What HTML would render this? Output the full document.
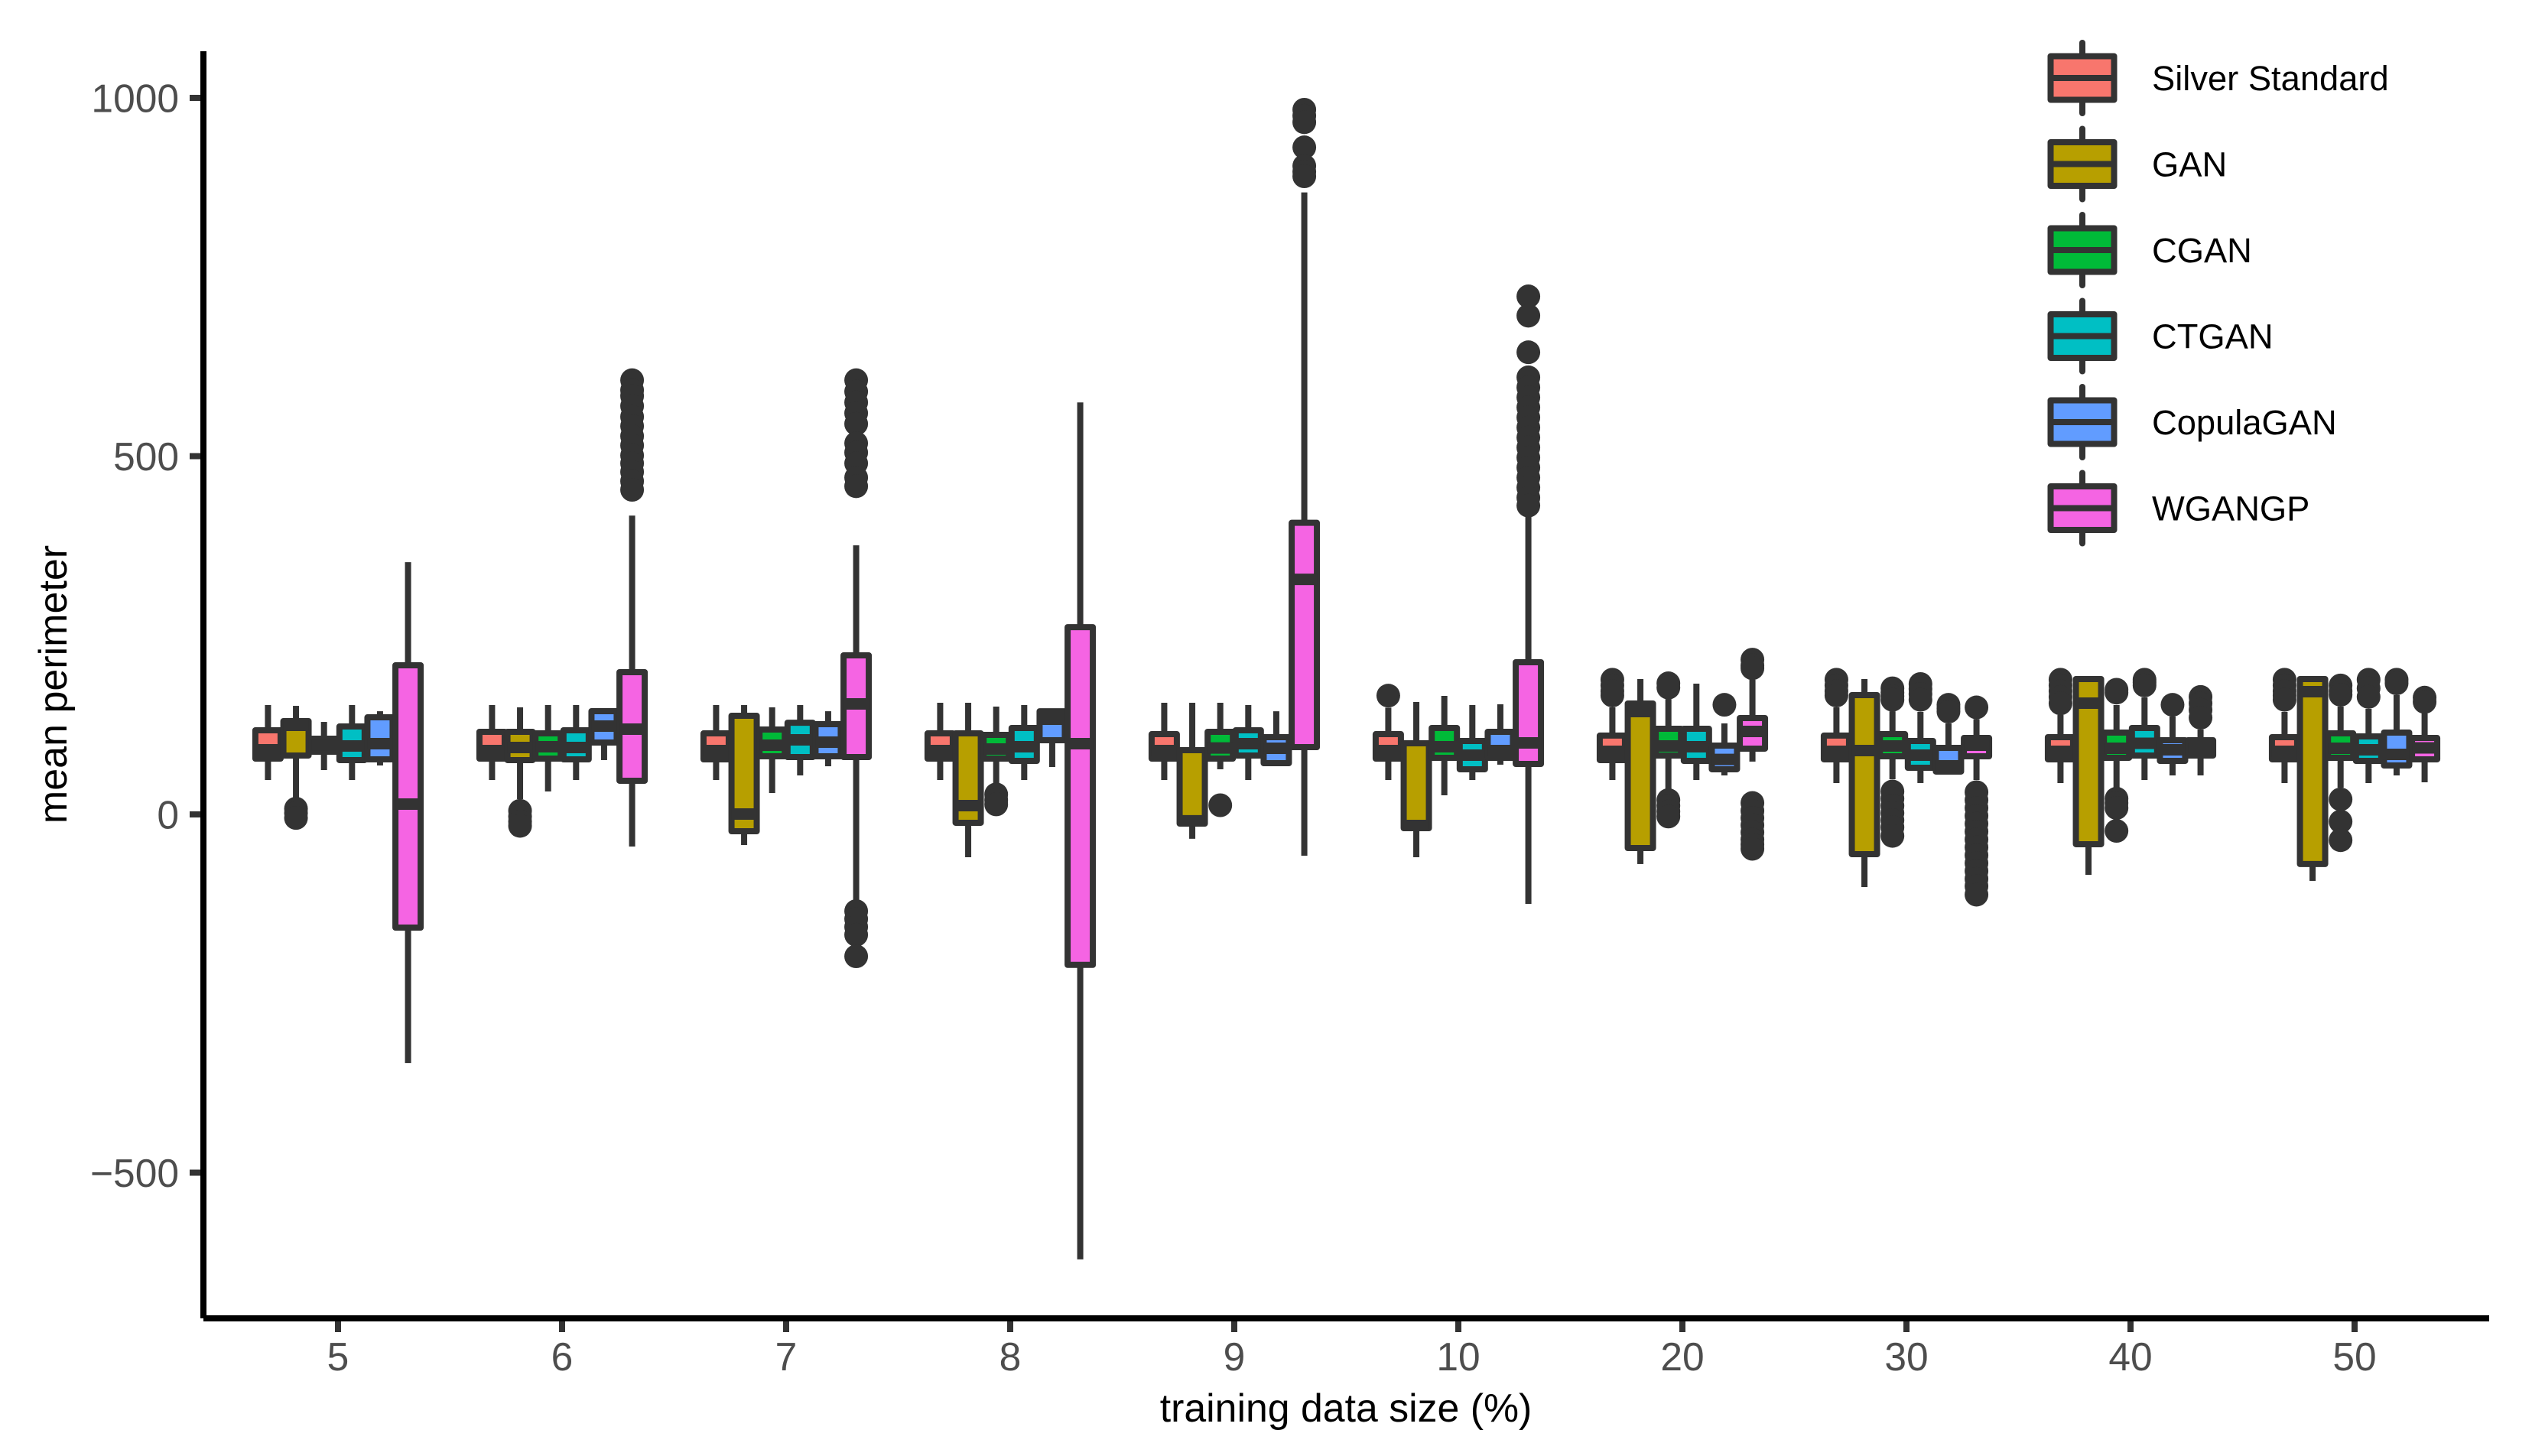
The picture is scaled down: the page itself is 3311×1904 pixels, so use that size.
<!DOCTYPE html>
<html lang="en">
<head>
<meta charset="utf-8">
<title>Mean perimeter by training data size</title>
<style>
html,body{margin:0;padding:0;background:#fff;width:3311px;height:1904px;overflow:hidden}
svg{display:block}
text{font-family:"Liberation Sans",Arial,sans-serif}
</style>
</head>
<body>
<svg id="chart" xmlns="http://www.w3.org/2000/svg" width="3311" height="1904" viewBox="0 0 3311 1904">
  <rect x="0" y="0" width="3311" height="1904" fill="#ffffff"/>
  <g id="marks"></g>
  <g id="yaxis"></g>
  <g id="xaxis"></g>
  <rect x="262" y="67" width="8" height="1657" fill="#000"/>
  <rect x="266" y="1720" width="2989" height="8" fill="#000"/>
  <text x="1760" y="1859" text-anchor="middle" font-size="51.8" fill="#000">training data size (%)</text>
  <text transform="translate(87,895) rotate(-90)" text-anchor="middle" font-size="52" fill="#000">mean perimeter</text>
  <g id="legend"></g>
</svg>
<script>
const categories = ['5','6','7','8','9','10','20','30','40','50'];
const seriesNames = ['Silver Standard','GAN','CGAN','CTGAN','CopulaGAN','WGANGP'];
const seriesColors = ['#F8766D','#B79F00','#00BA38','#00BFC4','#619CFF','#F564E3'];
const yTickValues = [1000,500,0,-500];
const yTickLabels = ['1000','500','0','\u2212500'];

/* rows: categories; columns: series */
const whiskerHi = [
  [152.6,151.5,129.1,152.6,144,352],
  [152.6,149.4,152.6,152.6,146,417],
  [152.6,152.6,149.4,152.6,144,375.6],
  [155.8,155.8,150.5,152.6,146,575],
  [155.8,155.8,155.8,152.6,144,868],
  [149,156.9,165.4,152.6,153.7,430],
  [149.4,188.9,161,182.5,127,187.8],
  [149.4,188.9,144,143,127,133],
  [138.7,190,152.6,163.3,136.6,118.5],
  [143,190,150.5,147.3,166.5,140.9]
];
const q3 = [
  [117.4,130.2,105.6,122.7,135.5,208.1],
  [115.3,115.3,113.1,117.4,144.1,198.5],
  [113.1,137.7,118.5,128,125.9,222],
  [113.1,113.1,111,120.6,144,261.4],
  [112,89.6,115.3,117.4,107.8,407],
  [112,99.3,120.6,102.4,115.3,212.4],
  [110,154.8,119.5,119.5,96,134.5],
  [110,166.5,112,102.5,92.9,106.7],
  [107.8,188.9,114.2,120.6,103.5,103.5],
  [107.8,188.9,113.1,108.9,114.2,106.7]
];
const medians = [
  [90.2,124.3,96.7,95.5,98.7,14.4],
  [89.1,93.4,94.4,93.4,123.3,119],
  [89.1,0.5,96.6,104,100.8,154.2],
  [89.1,12.3,91.2,94.4,132.9,98.7],
  [89.1,-9,92.7,98.7,92.3,328.1],
  [89.1,-15.5,94.4,82.7,89.1,99.8],
  [88,143.5,95.5,94.5,76.7,115.8],
  [88,89.1,95.5,82.7,67.8,96.6],
  [88,155.3,92.3,99.3,90.2,92.9],
  [88,171.3,92.3,90.2,83.8,92.9]
];
const q1 = [
  [77.9,82.2,87.5,75.8,76.8,-158],
  [77.9,75.8,77.9,76.8,100.3,47],
  [76.8,-23.5,81.1,80,81.1,80],
  [77.9,-11.7,77.9,74.7,103.5,-210],
  [77.9,-12.8,77.9,82.2,71.5,93.9],
  [77.9,-19.2,79,63,79,70.4],
  [75.8,-47,82.2,74.7,63,91.8],
  [76.9,-55.5,81.1,65.1,59.8,81.1],
  [76.9,-41.6,79,82.2,74.7,82.2],
  [76.9,-69.3,79,74.7,68.3,76.9]
];
const whiskerLo = [
  [48,23,61.9,48,68.3,-347],
  [48,21.3,32,48,75.8,-44.8],
  [48,-42.7,29.9,54.4,67.2,-119],
  [48,-59.7,42.7,48,66.2,-621],
  [48,-34,63,48,68,-57.6],
  [48,-59.7,26.7,48,69.4,-124.8],
  [48,-69.3,35,48,54.4,73.7],
  [43.8,-101.4,49.1,43.8,58,48],
  [43.8,-84.3,37.4,48,54.4,54.4],
  [43.8,-92.8,37.4,43.8,54.4,44.8]
];
const outliers = [
  [[],[8,2,-5],[],[],[],[]],
  [[],[5,-3,-10,-16],[],[],[],[606,592,584,570,555,542,528,515,501,490,478,465,453]],
  [[],[],[],[],[],[606,590,575,560,545,518,505,490,470,458,-135,-146,-157,-168,-198]],
  [[],[],[28,20,14],[],[],[]],
  [[],[],[12.8],[],[],[983.5,975,966,931,905,897,890.6]],
  [[165.8],[],[],[],[],[723,696,645,610,596,582,568,554,540,526,512,498,484,470,456,442,431]],
  [[188,180,172,166],[],[183,177,20,12,4,-3],[],[153],[216,208,204,16,5,-5,-15,-25,-35,-42,-48]],
  [[188,180,172,166],[],[176,170,165,160,32,22,12,2,-8,-18,-30],[182,175,168,160],[153,148,143.5],[149.4,31,20,9,-2,-13,-24,-35,-46,-57,-68,-79,-90,-100,-112]],
  [[188,180,172,164,155],[],[174,170,22,16,9,-23],[188,184,180],[153],[164,155,146,135]],
  [[188,180,172,166,160],[],[180,172,167,21,-10,-36],[188,176,164],[188,183],[163,157]]
];

const NS = 'http://www.w3.org/2000/svg';
const xScale = function (i) { return 442 + 293 * i; };
const yScale = function (v) { return 1065 - 0.937 * v; };
const dodge = function (s) { return (s - 2.5) * 36.63; };
const INK = '#333333';
const BOX_W = 33;

function mk(tag, parent, props) {
  const el = document.createElementNS(NS, tag);
  for (const k in props) { el.setAttribute(k, props[k]); }
  parent.appendChild(el);
  return el;
}

const marks = document.getElementById('marks');
categories.forEach(function (cat, c) {
  seriesNames.forEach(function (name, s) {
    const cx = xScale(c) + dodge(s);
    const g = mk('g', marks, {});
    
    

    const top = mk('line', g, {x1: cx, x2: cx, y1: yScale(whiskerHi[c][s]), y2: yScale(q3[c][s]), stroke: INK, 'stroke-width': 8});
    
    

    const low = mk('line', g, {x1: cx, x2: cx, y1: yScale(q1[c][s]), y2: yScale(whiskerLo[c][s]), stroke: INK, 'stroke-width': 8});
    
    

    outliers[c][s].forEach(function (v) {
      const dot = mk('circle', g, {cx: cx, cy: yScale(v), r: 15.5, fill: INK});
      
      
    });

    const yTop = yScale(q3[c][s]);
    const yBot = yScale(q1[c][s]);
    const box = mk('rect', g, {x: cx - BOX_W / 2, y: yTop, width: BOX_W, height: yBot - yTop, fill: seriesColors[s], stroke: INK, 'stroke-width': 8, 'stroke-linejoin': 'round'});
    
    

    const med = mk('line', g, {x1: cx - BOX_W / 2, x2: cx + BOX_W / 2, y1: yScale(medians[c][s]), y2: yScale(medians[c][s]), stroke: INK, 'stroke-width': 15});
    
    
  });
});

const yaxis = document.getElementById('yaxis');
yTickValues.forEach(function (v, i) {
  const tick = mk('rect', yaxis, {x: 248, y: yScale(v) - 4, width: 19, height: 8, fill: INK});
  
  
  const lab = mk('text', yaxis, {x: 234, y: yScale(v) + 18.5, 'text-anchor': 'end', 'font-size': 51.5, fill: '#4D4D4D'});
  
  
  lab.textContent = yTickLabels[i];
});

const xaxis = document.getElementById('xaxis');
categories.forEach(function (cat, c) {
  const tick = mk('rect', xaxis, {x: xScale(c) - 4, y: 1723, width: 8, height: 19, fill: INK});
  
  
  const lab = mk('text', xaxis, {x: xScale(c), y: 1792, 'text-anchor': 'middle', 'font-size': 51.5, fill: '#4D4D4D'});
  
  
  lab.textContent = cat;
});

const legend = document.getElementById('legend');
seriesNames.forEach(function (name, s) {
  const cy = 102 + 112.5 * s;
  const entry = mk('g', legend, {});
  
  
  const w = mk('line', entry, {x1: 2723, x2: 2723, y1: cy - 46, y2: cy + 46, stroke: INK, 'stroke-width': 8, 'stroke-linecap': 'round'});
  
  
  const b = mk('rect', entry, {x: 2681.5, y: cy - 28.5, width: 83, height: 57, fill: seriesColors[s], stroke: INK, 'stroke-width': 8, 'stroke-linejoin': 'round'});
  
  
  const m = mk('line', entry, {x1: 2681.5, x2: 2764.5, y1: cy, y2: cy, stroke: INK, 'stroke-width': 8});
  
  
  const t = mk('text', entry, {x: 2814, y: cy + 16, 'font-size': 45.3, fill: '#000'});
  
  
  t.textContent = name;
});
</script>
</body>
</html>
